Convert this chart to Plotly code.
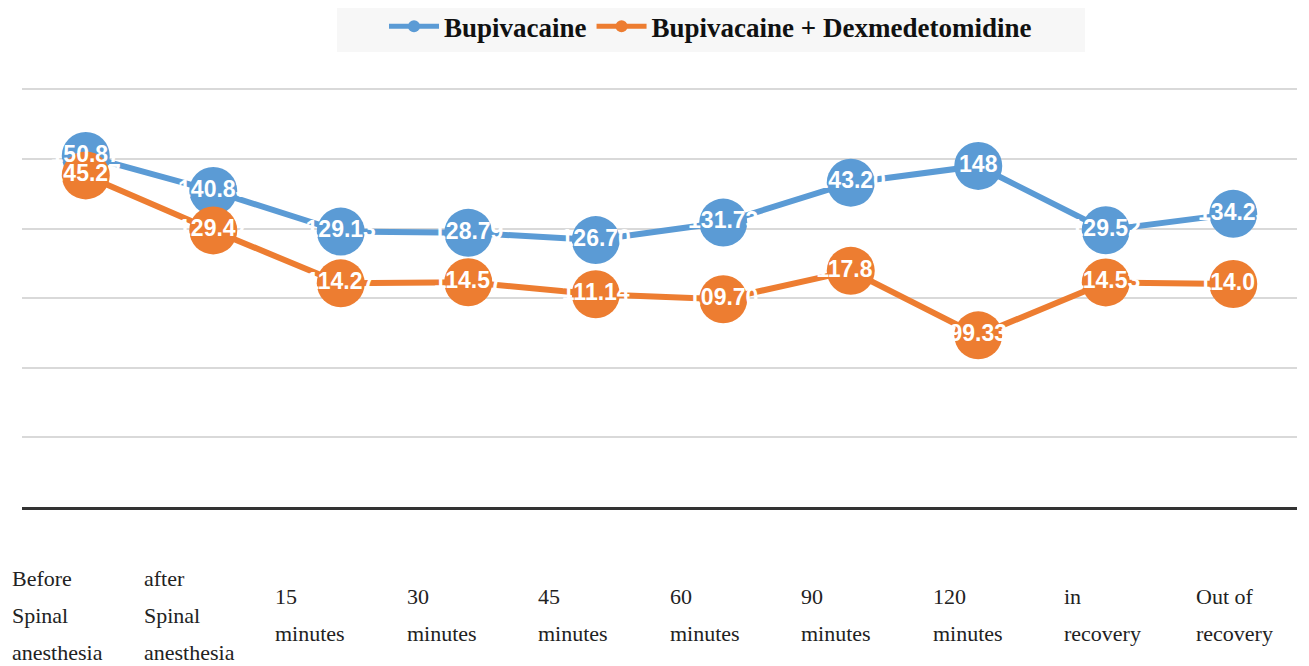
import plotly.graph_objects as go

categories = ["Before<br>Spinal<br>anesthesia", "after<br>Spinal<br>anesthesia", "15<br>minutes",
              "30<br>minutes", "45<br>minutes", "60<br>minutes", "90<br>minutes",
              "120<br>minutes", "in<br>recovery", "Out of<br>recovery"]
bupivacaine = [150.87, 140.83, 129.13, 128.79, 126.70, 131.73, 143.20, 148, 129.52, 134.23]
bupi_dex = [145.27, 129.47, 114.27, 114.57, 111.14, 109.70, 117.87, 99.33, 114.53, 114.07]
series_names = ["Bupivacaine", "Bupivacaine + Dexmedetomidine"]
colors = ["#5B9BD5", "#ED7D31"]

xs = list(range(len(categories)))
fig = go.Figure()
for name, vals, col in zip(series_names, [bupivacaine, bupi_dex], colors):
    fig.add_trace(go.Scatter(x=xs, y=vals, name=name, mode="lines+markers",
                             line=dict(color=col, width=6),
                             marker=dict(color=col, size=48)))
for vals in [bupivacaine, bupi_dex]:
    fig.add_trace(go.Scatter(x=xs, y=vals, mode="text", showlegend=False,
                             text=[f"{v:g}" if v == int(v) else f"{v:.2f}" for v in vals],
                             textposition="middle center",
                             textfont=dict(family="Liberation Sans Narrow, Liberation Sans, Arial", size=23,
                                           color="white", weight="bold"),
                             hoverinfo="skip"))

annotations = []
for i, lab in enumerate(categories):
    lines = lab.split("<br>")
    n = len(lines)
    for j, ln in enumerate(lines):
        annotations.append(dict(x=i - 0.5, xref="x", y=-0.258, yref="paper",
                                text=ln, showarrow=False, xanchor="left", yanchor="middle",
                                xshift=-12 + 4 * i, yshift=((n - 1) / 2 - j) * 37,
                                font=dict(family="Liberation Serif, Times New Roman", size=22, color="#222")))

fig.update_layout(
    width=1309, height=666,
    margin=dict(l=22, r=12, t=88, b=159, autoexpand=False),
    paper_bgcolor="white", plot_bgcolor="white",
    xaxis=dict(range=[-0.5, len(categories) - 0.5], showticklabels=False, showgrid=False,
               zeroline=False, showline=True, linecolor="#333", linewidth=3, ticks=""),
    yaxis=dict(range=[50, 170.4], dtick=20, tick0=50, showticklabels=False, showgrid=True,
               gridcolor="#d9d9d9", gridwidth=2, zeroline=False, showline=False, ticks=""),
    legend=dict(orientation="h", x=0.54, xanchor="center", y=1.205, yanchor="top",
                bgcolor="rgba(0,0,0,0)", itemsizing="constant",
                font=dict(family="Liberation Serif, Times New Roman", size=27, color="#111", weight="bold"),
                itemwidth=50),
    shapes=[dict(type="rect", xref="paper", yref="paper", layer="below",
                 x0=(337 - 22) / 1275, x1=(1085 - 22) / 1275,
                 y0=1 + (88 - 52) / 419, y1=1 + (88 - 8) / 419,
                 fillcolor="#f7f7f7", line=dict(width=0))],
    annotations=annotations,
    showlegend=True,
)
fig.write_html("out.html", config={"displayModeBar": False},
               post_script="document.body.style.margin='0';")
